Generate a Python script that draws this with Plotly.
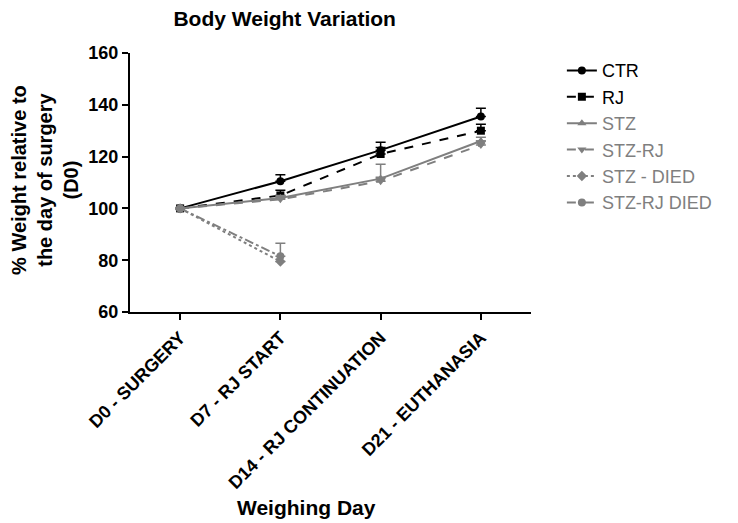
import plotly.graph_objects as go

days = ["D0 - SURGERY", "D7 - RJ START", "D14 - RJ CONTINUATION", "D21 - EUTHANASIA"]
died_days = ["D0 - SURGERY", "D7 - RJ START"]

ctr = [100, 110.5, 122.5, 135.5]
ctr_err = [0, 2.5, 3.0, 3.2]
rj = [100, 105, 121, 130]
rj_err = [0, 2.0, 2.5, 2.5]
stz = [100, 104, 111.5, 126]
stz_err = [0, 1.0, 5.5, 1.5]
stz_rj = [100, 103.5, 110.5, 124.5]
stz_rj_err = [0, 1.0, 1.5, 1.5]
stz_died = [100, 79.5]
stz_died_err = [0, 0]
stz_rj_died = [100, 81.5]
stz_rj_died_err = [0, 5.0]

BLACK = "#000000"
GRAY = "#7f7f7f"
FONT = "Liberation Sans, Arial, sans-serif"

series = [
    ("CTR", days, ctr, ctr_err, BLACK, "solid", "circle"),
    ("RJ", days, rj, rj_err, BLACK, "dash", "square"),
    ("STZ", days, stz, stz_err, GRAY, "solid", "triangle-up"),
    ("STZ-RJ", days, stz_rj, stz_rj_err, GRAY, "dash", "triangle-down"),
    ("STZ - DIED", died_days, stz_died, stz_died_err, GRAY, "dot", "diamond"),
    ("STZ-RJ DIED", died_days, stz_rj_died, stz_rj_died_err, GRAY, "dashdot", "circle"),
]

fig = go.Figure()
for name, xs, ys, err, col, dash, sym in series:
    fig.add_trace(go.Scatter(
        x=xs, y=ys, name=f"<span style='color:{col}'>{name}</span>",
        mode="lines+markers",
        line=dict(color=col, width=2, dash=dash),
        marker=dict(color=col, symbol=sym, size=8),
        error_y=dict(type="data", array=err, arrayminus=[0] * len(err), symmetric=False,
                     color=col, thickness=1.5, width=5),
    ))

fig.update_layout(
    width=730, height=515,
    margin=dict(l=122, r=207, t=45, b=211, autoexpand=False),
    paper_bgcolor="white", plot_bgcolor="white",
    font=dict(family=FONT, color="black", size=15),
    title=dict(text="<b>Body Weight Variation</b>", x=0.379, xanchor="center", y=0.98, yanchor="middle",
               font=dict(size=21, family=FONT, color="black")),
    legend=dict(x=1.077, xanchor="left", y=1.003, yanchor="top",
                font=dict(size=18, family=FONT), tracegroupgap=0, itemwidth=30,
                bgcolor="rgba(0,0,0,0)"),
    showlegend=True,
    annotations=[
        dict(text="<b>% Weight relative to<br>the day of surgery<br>(D0)</b>", textangle=-90,
             xref="paper", yref="paper", x=-0.212, y=0.51, xanchor="center", yanchor="middle",
             showarrow=False, font=dict(size=20, family=FONT, color="black")),
        dict(text="<b>Weighing Day</b>",
             xref="paper", yref="paper", x=0.439, y=-0.753, xanchor="center", yanchor="middle",
             showarrow=False, font=dict(size=21, family=FONT, color="black")),
    ],
)
fig.update_xaxes(
    type="category", categoryorder="array", categoryarray=days,
    range=[-0.5, 3.5], showline=True, linecolor="black", linewidth=2,
    ticks="outside", ticklen=6, tickwidth=2, tickcolor="black",
    tickangle=-45, tickfont=dict(size=18, family=FONT, color="black", weight="bold"),
    showgrid=False, zeroline=False, automargin=False,
)
fig.update_yaxes(
    range=[60, 160], tickvals=[60, 80, 100, 120, 140, 160],
    showline=True, linecolor="black", linewidth=2,
    ticks="outside", ticklen=6, tickwidth=2, tickcolor="black",
    tickfont=dict(size=18, family=FONT, color="black", weight="bold"),
    showgrid=False, zeroline=False, automargin=False,
)

fig.write_html("out.html")
